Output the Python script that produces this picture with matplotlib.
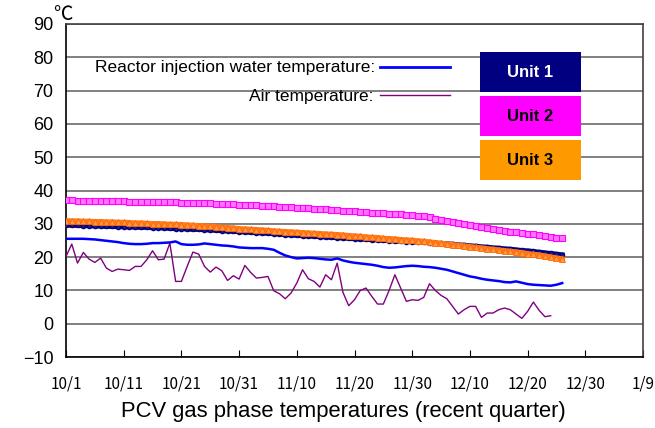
import matplotlib
matplotlib.use("Agg")
import matplotlib.pyplot as plt
import numpy as np

# -----------------------------
# Data (days since 10/1)
# -----------------------------
tick_days = [0, 10, 20, 30, 40, 50, 60, 70, 80, 90, 100]
tick_labels = ["10/1", "10/11", "10/21", "10/31", "11/10", "11/20",
               "11/30", "12/10", "12/20", "12/30", "1/9"]

unit2 = [37.0, 37.0, 36.9, 36.9, 36.9, 36.8, 36.8, 36.8, 36.7, 36.7,
         36.7, 36.6, 36.6, 36.6, 36.5, 36.5, 36.5, 36.4, 36.4, 36.4,
         36.3, 36.3, 36.2, 36.2, 36.1, 36.1, 36.0, 35.9, 35.9, 35.8,
         35.7, 35.7, 35.6, 35.5, 35.4, 35.3, 35.2, 35.1, 35.0, 34.9,
         34.8, 34.7, 34.6, 34.5, 34.4, 34.3, 34.2, 34.0, 33.9, 33.8,
         33.7, 33.6, 33.4, 33.3, 33.2, 33.1, 33.0, 32.9, 32.8, 32.6,
         32.5, 32.4, 32.2, 31.9, 31.5, 31.2, 30.9, 30.6, 30.3, 30.0,
         29.7, 29.4, 29.1, 28.8, 28.5, 28.2, 27.9, 27.6, 27.4, 27.2,
         27.0, 26.8, 26.6, 26.3, 26.0, 25.8, 25.6]

unit1 = [29.6, 29.5, 29.5, 29.4, 29.4, 29.3, 29.3, 29.2, 29.2, 29.1,
         29.1, 29.0, 29.0, 28.9, 28.9, 28.8, 28.8, 28.7, 28.6, 28.5,
         28.5, 28.4, 28.3, 28.3, 28.2, 28.1, 28.0, 27.9, 27.8, 27.7,
         27.6, 27.5, 27.4, 27.3, 27.2, 27.1, 27.0, 26.9, 26.7, 26.6,
         26.5, 26.4, 26.3, 26.2, 26.1, 26.0, 25.9, 25.8, 25.7, 25.6,
         25.5, 25.4, 25.3, 25.2, 25.1, 25.0, 24.9, 24.8, 24.7, 24.6,
         24.6, 24.5, 24.4, 24.3, 24.2, 24.1, 24.0, 23.9, 23.7, 23.6,
         23.4, 23.3, 23.1, 23.0, 22.8, 22.7, 22.5, 22.4, 22.2, 22.0,
         21.9, 21.7, 21.5, 21.3, 21.1, 20.9, 20.7]

unit3 = [30.9, 30.8, 30.8, 30.7, 30.7, 30.6, 30.6, 30.5, 30.5, 30.4,
         30.4, 30.3, 30.2, 30.2, 30.1, 30.0, 30.0, 29.9, 29.8, 29.8,
         29.7, 29.6, 29.5, 29.4, 29.3, 29.2, 29.1, 28.9, 28.8, 28.7,
         28.5, 28.4, 28.3, 28.2, 28.1, 28.0, 27.8, 27.7, 27.6, 27.5,
         27.4, 27.3, 27.2, 27.1, 27.0, 26.9, 26.8, 26.7, 26.6, 26.4,
         26.3, 26.2, 26.0, 25.9, 25.8, 25.6, 25.5, 25.4, 25.2, 25.1,
         25.0, 24.8, 24.7, 24.5, 24.3, 24.1, 23.9, 23.7, 23.5, 23.3,
         23.1, 22.9, 22.7, 22.5, 22.3, 22.1, 21.9, 21.7, 21.5, 21.3,
         21.0, 20.8, 20.6, 20.3, 20.0, 19.7, 19.4]

injection = [25.5, 25.5, 25.5, 25.5, 25.4, 25.3, 25.1, 24.9, 24.7, 24.5,
             24.2, 24.0, 23.9, 23.9, 24.0, 24.2, 24.2, 24.3, 24.4, 24.7,
             23.9, 23.7, 23.7, 23.8, 24.1, 23.9, 23.7, 23.5, 23.4, 23.2,
             22.9, 22.8, 22.7, 22.7, 22.7, 22.5, 22.2, 21.3, 20.5, 20.0,
             19.6, 19.7, 19.8, 19.7, 19.5, 19.3, 19.2, 19.6, 19.0, 18.6,
             18.3, 18.1, 17.9, 17.7, 17.4, 17.0, 16.8, 16.9, 17.1, 17.3,
             17.4, 17.3, 17.1, 17.0, 16.8, 16.5, 16.2, 15.7, 15.2, 14.7,
             14.2, 13.9, 13.5, 13.2, 13.0, 12.8, 12.5, 12.4, 12.7, 12.3,
             11.9, 11.7, 11.6, 11.5, 11.4, 11.7, 12.2]

air = [20.2, 23.9, 18.2, 21.4, 19.4, 18.4, 19.7, 16.7, 15.7, 16.4,
       16.2, 16.0, 17.2, 17.2, 19.2, 21.9, 19.2, 19.4, 24.2, 12.7,
       12.7, 17.2, 21.5, 20.9, 17.2, 15.5, 17.0, 15.9, 13.0, 14.4,
       13.4, 17.5, 15.4, 13.7, 13.9, 14.2, 9.9, 9.0, 7.5, 9.2,
       12.2, 16.2, 13.5, 12.7, 11.0, 14.7, 13.2, 18.2, 9.4, 5.4,
       7.2, 10.0, 10.7, 8.2, 5.9, 5.9, 10.0, 14.7, 10.7, 6.7,
       7.2, 7.0, 7.9, 12.0, 10.0, 8.5, 7.5, 5.2, 2.9, 4.2,
       5.2, 5.2, 1.9, 3.2, 3.2, 4.2, 4.7, 4.2, 2.9, 1.6,
       3.7, 6.5, 4.0, 2.1, 2.4]

unit_names = ["Unit 1", "Unit 2", "Unit 3"]
unit_colors = ["#000080", "#ff00ff", "#ff9900"]
unit_text_colors = ["white", "black", "black"]

days = np.arange(len(unit1))
air_days = np.arange(len(air))

plt.rcParams['font.family'] = ["Liberation Sans", "DejaVu Sans"]

fig = plt.figure(figsize=(6.55, 4.28), dpi=100)
ax = fig.add_axes([66/655, 1 - 357/428, (643-66)/655, (357-24)/428])

ax.set_xlim(0, 100)
ax.set_ylim(-10, 90)
ax.set_yticks(range(-10, 91, 10))
ax.set_xticks(tick_days)
ax.set_xticklabels(tick_labels, family=["Noto Sans CJK JP", "DejaVu Sans"], fontsize=11)
ax.set_yticklabels([str(v) if v >= 0 else "\u221210" for v in range(-10, 91, 10)], fontsize=13)
ax.tick_params(axis='x', direction='in', length=5, pad=13, color='black')
ax.tick_params(axis='y', direction='in', length=0, pad=9)
ax.grid(axis='y', color='#808080', linewidth=1.4, zorder=0)
for s in ['left', 'bottom']:
    ax.spines[s].set_color('black')
    ax.spines[s].set_linewidth(1.2)
for s in ['top', 'right']:
    ax.spines[s].set_color('#404040')
    ax.spines[s].set_linewidth(1.2)

# series
ax.plot(air_days, air, color='#800080', linewidth=1, zorder=3)
ax.plot(days, injection, color='#0000ff', linewidth=1.8, zorder=3)
ax.plot(days, unit2, color='#ff00ff', linewidth=4, marker='s', markersize=5,
        markerfacecolor='#ff77ff', markeredgecolor='#ff00ff', markeredgewidth=0.8, zorder=4)
ax.plot(days, unit1, color='#000080', linewidth=3.5, marker='o', markersize=3,
        markerfacecolor='#202090', markeredgecolor='#000080', zorder=4)
ax.plot(days, unit3, color='#ff7a1a', linewidth=4, marker='^', markersize=5,
        markerfacecolor='#ff9944', markeredgecolor='#ff6600', markeredgewidth=0.6, zorder=5)

# legend texts and sample lines
ax.text(53.6, 77.0, "Reactor injection water temperature:", ha='right', va='center', fontsize=12.5)
ax.plot([54.4, 66.6], [77.2, 77.2], color='#0000ff', linewidth=2, zorder=3)
ax.text(53.3, 68.3, "Air temperature:", ha='right', va='center', fontsize=12.5)
ax.plot([54.4, 66.6], [68.6, 68.6], color='#800080', linewidth=1, zorder=3)

# unit boxes
box_tops = [81.7, 68.5, 55.3]
for name, col, tcol, top in zip(unit_names, unit_colors, unit_text_colors, box_tops):
    ax.add_patch(plt.Rectangle((71.7, top - 12.2), 17.6, 12.2, facecolor=col,
                               edgecolor='none', zorder=6))
    ax.text(80.5, top - 6.3, name, ha='center', va='center', color=tcol,
            fontsize=12, fontweight='bold', zorder=7)

fig.text(63/655, 1 - 14/428, "\u2103", fontsize=14, ha='center', va='center',
         family=["Noto Sans CJK JP", "DejaVu Sans"])
fig.text(343/655, 1 - 411/428, "PCV gas phase temperatures (recent quarter)",
         ha='center', va='center', fontsize=15.8)

fig.savefig("out.png", dpi=100)
